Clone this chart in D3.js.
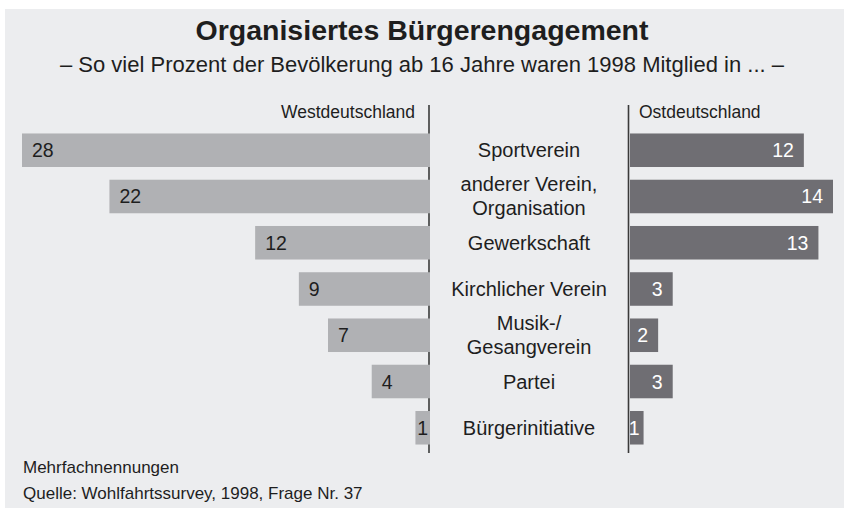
<!DOCTYPE html>
<html>
<head>
<meta charset="utf-8">
<script src="https://cdn.jsdelivr.net/npm/d3@7"></script>
<style>
  body { margin: 0; background: #fff; }
  text { font-family: "Liberation Sans", Arial, Helvetica, sans-serif; }
</style>
</head>
<body>
<div id="chart"></div>
<script>
// data
const categories = [
  ["Sportverein"],
  ["anderer Verein,", "Organisation"],
  ["Gewerkschaft"],
  ["Kirchlicher Verein"],
  ["Musik-/", "Gesangverein"],
  ["Partei"],
  ["Bürgerinitiative"]
];
const westValues = [28, 22, 12, 9, 7, 4, 1];
const eastValues = [12, 14, 13, 3, 2, 3, 1];

const width = 844, height = 509;

const svg = d3.select("#chart")
  .append("svg")
  .attr("width", width)
  .attr("height", height);

// panel background
svg.append("rect")
  .attr("x", 5).attr("y", 9)
  .attr("width", width - 5).attr("height", height - 10)
  .attr("fill", "#ecedef");

// titles
svg.append("text")
  .attr("x", 422).attr("y", 40)
  .attr("text-anchor", "middle")
  .attr("font-size", 28.5).attr("font-weight", "bold")
  .attr("fill", "#1e1e1e")
  .text("Organisiertes Bürgerengagement");

svg.append("text")
  .attr("x", 422).attr("y", 72)
  .attr("text-anchor", "middle")
  .attr("font-size", 22)
  .attr("fill", "#1e1e1e")
  .text("– So viel Prozent der Bevölkerung ab 16 Jahre waren 1998 Mitglied in ... –");

// scales
const xWest = d3.scaleLinear().domain([0, 28]).range([430, 22]);
const xEast = d3.scaleLinear().domain([0, 14]).range([629, 833]);
const y = d3.scaleBand()
  .domain(d3.range(categories.length))
  .range([127, 451])
  .paddingInner(0.275)
  .paddingOuter(0.14);

// axis lines
svg.append("line")
  .attr("x1", 429).attr("x2", 429)
  .attr("y1", 105).attr("y2", 453)
  .attr("stroke", "#3a3a3a").attr("stroke-width", 1.6);
svg.append("line")
  .attr("x1", 628.5).attr("x2", 628.5)
  .attr("y1", 105).attr("y2", 453)
  .attr("stroke", "#3a3a3a").attr("stroke-width", 1.6);

// headers
svg.append("text")
  .attr("x", 415).attr("y", 118)
  .attr("text-anchor", "end")
  .attr("font-size", 17.5).attr("fill", "#1e1e1e")
  .text("Westdeutschland");
svg.append("text")
  .attr("x", 639).attr("y", 118)
  .attr("font-size", 17.5).attr("fill", "#1e1e1e")
  .text("Ostdeutschland");

// west bars
svg.append("g")
  .selectAll("rect")
  .data(westValues)
  .join("rect")
  .attr("x", d => xWest(d))
  .attr("y", (d, i) => y(i))
  .attr("width", d => xWest(0) - xWest(d))
  .attr("height", y.bandwidth())
  .attr("fill", "#b0b1b4");

svg.append("g")
  .selectAll("text")
  .data(westValues)
  .join("text")
  .attr("x", d => d < 2 ? xWest(0) - 2 : xWest(d) + 10)
  .attr("y", (d, i) => y(i) + y.bandwidth() / 2 + 7)
  .attr("text-anchor", d => d < 2 ? "end" : "start")
  .attr("font-size", 19.5).attr("fill", "#1e1e1e")
  .text(d => d);

// east bars
svg.append("g")
  .selectAll("rect")
  .data(eastValues)
  .join("rect")
  .attr("x", xEast(0) + 1)
  .attr("y", (d, i) => y(i))
  .attr("width", d => xEast(d) - xEast(0) - 1)
  .attr("height", y.bandwidth())
  .attr("fill", "#6f6e73");

svg.append("g")
  .selectAll("text")
  .data(eastValues)
  .join("text")
  .attr("x", d => d < 2 ? xEast(d) - 4 : xEast(d) - 10)
  .attr("y", (d, i) => y(i) + y.bandwidth() / 2 + 7)
  .attr("text-anchor", "end")
  .attr("font-size", 19.5).attr("fill", "#ffffff")
  .text(d => d);

// category labels
const cat = svg.append("g")
  .selectAll("text")
  .data(categories)
  .join("text")
  .attr("text-anchor", "middle")
  .attr("font-size", 20).attr("fill", "#1e1e1e")
  .attr("y", (d, i) => y(i) + y.bandwidth() / 2 + 7 - (d.length - 1) * 12);

cat.selectAll("tspan")
  .data(d => d)
  .join("tspan")
  .attr("x", 529)
  .attr("dy", (d, i) => i === 0 ? 0 : 24)
  .text(d => d);

// notes
svg.append("text")
  .attr("x", 23).attr("y", 473)
  .attr("font-size", 17).attr("fill", "#1e1e1e")
  .text("Mehrfachnennungen");
svg.append("text")
  .attr("x", 23).attr("y", 499)
  .attr("font-size", 17).attr("fill", "#1e1e1e")
  .text("Quelle: Wohlfahrtssurvey, 1998, Frage Nr. 37");
</script>
</body>
</html>
